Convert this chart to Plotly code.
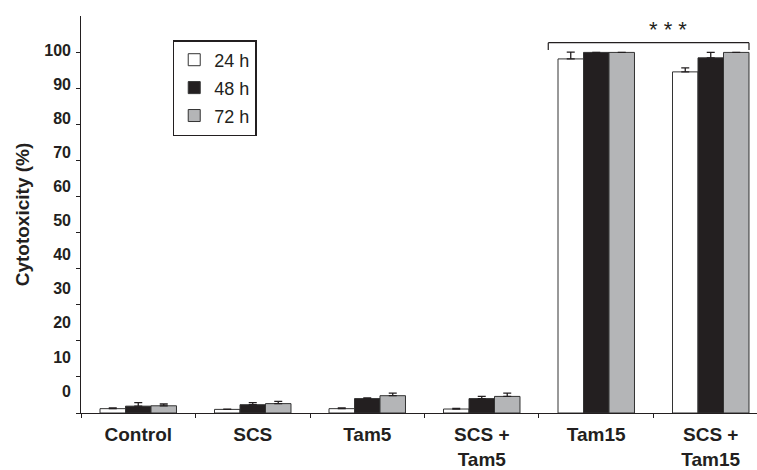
import plotly.graph_objects as go

categories = ["Control", "SCS", "Tam5", "SCS +<br>Tam5", "Tam15", "SCS +<br>Tam15"]
series_names = ["24 h", "48 h", "72 h"]
v24 = [1.2, 1.0, 1.2, 1.1, 98.2, 94.6]
e24 = [0.2, 0.1, 0.2, 0.2, 1.9, 1.1]
v48 = [1.9, 2.3, 4.0, 4.0, 100.0, 98.5]
e48 = [1.0, 0.6, 0.2, 0.6, 0.0, 1.5]
v72 = [2.0, 2.6, 4.8, 4.6, 100.0, 100.0]
e72 = [0.5, 0.6, 0.7, 0.9, 0.0, 0.0]
y_tick_vals = [0, 10, 20, 30, 40, 50, 60, 70, 80, 90, 100]
y_tick_text = ["0", "10", "20", "30", "40", "50", "60", "70", "80", "90", "100"]
significance = "* * *"

colors = ["#ffffff", "#231f20", "#b4b5b7"]
FONT = "Liberation Sans, Arial, sans-serif"
INK = "#231f20"

fig = go.Figure()
for i, (name, vals, errs) in enumerate(zip(series_names, [v24, v48, v72], [e24, e48, e72])):
    fig.add_trace(go.Bar(
        x=categories, y=vals, name=name, legendgroup=name,
        marker=dict(color=colors[i], line=dict(color="#333333", width=1)),
        error_y=dict(type="data", array=errs, arrayminus=[0] * len(errs), symmetric=False,
                     color=INK, thickness=1.3, width=4),
    ))

# invisible trace to carry the label axis
fig.add_trace(go.Scatter(x=[categories[0]], y=[0], yaxis="y2", mode="markers",
                         marker=dict(opacity=0), showlegend=False, hoverinfo="skip"))

bargap = 0.332
half = (1 - bargap) / 2
b_x0 = categories.index("Tam15") - half - 0.085
b_x1 = categories.index("SCS +<br>Tam15") + half
b_top = 102.7
b_end = 100.7
for (x0, y0, x1, y1) in [(b_x0, b_end, b_x0, b_top), (b_x0, b_top, b_x1, b_top), (b_x1, b_top, b_x1, b_end)]:
    fig.add_shape(type="line", xref="x", yref="y", x0=x0, y0=y0, x1=x1, y1=y1,
                  line=dict(color=INK, width=1.2))
fig.add_annotation(x=4.63, y=106.3, xref="x", yref="y", text=significance, showarrow=False,
                   font=dict(family=FONT, size=22, color=INK), yanchor="middle")

fig.update_layout(
    width=757, height=470,
    margin=dict(l=81, r=0, t=16, b=53),
    paper_bgcolor="white", plot_bgcolor="white",
    barmode="group", bargap=bargap, bargroupgap=0,
    font=dict(family=FONT, color=INK),
    showlegend=True,
    legend=dict(x=0.1357, y=0.9395, xanchor="left", yanchor="top",
                bordercolor=INK, borderwidth=1.5, bgcolor="white",
                font=dict(family=FONT, size=18, color=INK), tracegroupgap=1.5,
                entrywidth=52, entrywidthmode="pixels"),
    xaxis=dict(type="category", tickson="boundaries", ticks="outside", ticklen=4,
               tickcolor=INK, showline=True, linecolor=INK, linewidth=1.3,
               range=[-0.5, 5.404], showgrid=False,
               tickfont=dict(family=FONT, size=19, color=INK, weight="bold"),
               ticklabelstandoff=4),
    yaxis=dict(range=[0, 110.1], tickvals=y_tick_vals, showticklabels=False,
               ticks="outside", ticklen=4, tickcolor=INK, showline=True, linecolor=INK,
               linewidth=1.3, showgrid=False, zeroline=False),
    yaxis2=dict(overlaying="y", side="left", range=[-6.47, 110.1], tickvals=y_tick_vals,
                ticktext=y_tick_text, ticks="", showline=False, showgrid=False, zeroline=False,
                tickfont=dict(family=FONT, size=16, color=INK, weight="bold"),
                ticklabelstandoff=9,
                title=dict(text="Cytotoxicity (%)", standoff=9,
                           font=dict(family=FONT, size=19, color=INK, weight="bold"))),
)

fig.write_html("out.html", config={"displayModeBar": False},
               post_script="document.body.style.margin='0';document.body.style.overflow='hidden';")
